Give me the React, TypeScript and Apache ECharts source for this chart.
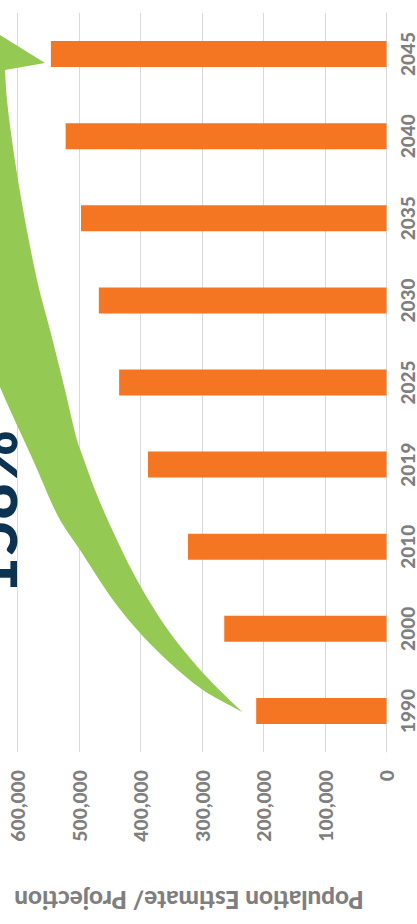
import React, { useEffect, useRef } from "react";
import * as echarts from "echarts";

const years = ["1990", "2000", "2010", "2019", "2025", "2030", "2035", "2040", "2045"];
const population = [212000, 264000, 323000, 388000, 435000, 468000, 497000, 522000, 546000];
const valueTicks = { min: 0, max: 600000, interval: 100000 };
const axisTitle = "Population Estimate/ Projection";
const growthLabel = "158%";

// decorative arrow outline (pixel space)
const arrowOuter: number[][] = [
  [242, 712], [203, 673], [168, 630], [137, 580], [110, 525], [95, 490], [84, 460],
  [77, 440], [65, 390], [50, 330], [37, 280], [18, 180], [7, 100], [5, 70],
];
const arrowHead: number[][] = [[45, 63], [0, 35], [-30, 16], [-70, 40]];
const arrowInner: number[][] = [
  [-75, 75], [-70, 130], [-55, 220], [-30, 310], [0, 387], [33, 460], [59, 518],
  [80, 550], [113, 600], [140, 633], [170, 663], [203, 690], [242, 712],
];

function centripetal(pts: number[][], steps = 10): number[][] {
  const n = pts.length;
  const ext = [
    [2 * pts[0][0] - pts[1][0], 2 * pts[0][1] - pts[1][1]],
    ...pts,
    [2 * pts[n - 1][0] - pts[n - 2][0], 2 * pts[n - 1][1] - pts[n - 2][1]],
  ];
  const out: number[][] = [];
  const d = (a: number[], b: number[]) => Math.max(1e-6, Math.sqrt(Math.hypot(b[0] - a[0], b[1] - a[1])));
  const lerp = (a: number[], b: number[], ta: number, tb: number, t: number) => {
    const w = (t - ta) / (tb - ta);
    return [a[0] + (b[0] - a[0]) * w, a[1] + (b[1] - a[1]) * w];
  };
  for (let i = 1; i < ext.length - 2; i++) {
    const p0 = ext[i - 1], p1 = ext[i], p2 = ext[i + 1], p3 = ext[i + 2];
    const t0 = 0;
    const t1 = t0 + d(p0, p1);
    const t2 = t1 + d(p1, p2);
    const t3 = t2 + d(p2, p3);
    for (let s = 0; s < steps; s++) {
      const t = t1 + ((t2 - t1) * s) / steps;
      const A1 = lerp(p0, p1, t0, t1, t);
      const A2 = lerp(p1, p2, t1, t2, t);
      const A3 = lerp(p2, p3, t2, t3, t);
      const B1 = lerp(A1, A2, t0, t2, t);
      const B2 = lerp(A2, A3, t1, t3, t);
      out.push(lerp(B1, B2, t1, t2, t));
    }
  }
  out.push(pts[n - 1]);
  return out;
}

const fmt = (v: number) => String(v).replace(/\B(?=(\d{3})+(?!\d))/g, ",");

export default function App() {
  const ref = useRef<HTMLDivElement>(null);
  useEffect(() => {
    document.body.style.margin = "0";
    if (!ref.current) return;
    const chart = echarts.init(ref.current, undefined, { renderer: "svg" });
    const FONT = "Lato";
    const gray = "#7f7f7f";
    const arrowPts = [...centripetal(arrowOuter), ...arrowHead, ...centripetal(arrowInner)];
    chart.setOption({
      animation: false,
      backgroundColor: "#ffffff",
      grid: { left: 17.7, right: 30.5, top: 13, bottom: 172, containLabel: false },
      xAxis: {
        type: "value",
        min: valueTicks.min,
        max: valueTicks.max,
        interval: valueTicks.interval,
        inverse: true,
        position: "bottom",
        axisLine: { show: false },
        axisTick: { show: false },
        splitLine: { show: true, lineStyle: { color: "#d9d9d9", width: 1 } },
        axisLabel: {
          rotate: 90,
          margin: 18,
          formatter: (v: number) => fmt(v),
          color: gray,
          fontFamily: FONT,
          fontWeight: 900,
          fontSize: 19.3,
        },
      },
      yAxis: {
        type: "category",
        position: "right",
        data: years,
        axisLine: { show: true, lineStyle: { color: "#d9d9d9", width: 1 } },
        axisTick: { show: false },
        splitLine: { show: false },
        axisLabel: {
          interval: 0,
          rotate: 90,
          margin: 11,
          color: gray,
          fontFamily: FONT,
          fontWeight: 900,
          fontSize: 19,
        },
      },
      series: [
        {
          type: "bar",
          data: population,
          barWidth: 26,
          itemStyle: { color: "#f47622" },
        },
      ],
      graphic: [
        {
          type: "polygon",
          z: 5,
          shape: { points: arrowPts },
          style: { fill: "#94c954" },
        },
        {
          type: "text",
          z: 6,
          x: -8,
          y: 512,
          rotation: Math.PI / 2,
          style: {
            text: growthLabel,
            fontSize: 64,
            fontWeight: 900,
            fontFamily: FONT,
            fill: "#0c3352",
            textAlign: "center",
            align: "center",
            textVerticalAlign: "middle",
            verticalAlign: "middle",
          },
        },
        {
          type: "text",
          z: 6,
          x: 189,
          y: 900,
          rotation: Math.PI,
          style: {
            text: axisTitle,
            fontSize: 24.3,
            fontWeight: 900,
            fontFamily: FONT,
            fill: gray,
            textAlign: "center",
            align: "center",
            textVerticalAlign: "middle",
            verticalAlign: "middle",
          },
        },
      ],
    });
    return () => chart.dispose();
  }, []);
  return (
    <div
      ref={ref}
      style={{ position: "absolute", left: 0, top: 0, width: 417, height: 924 }}
    />
  );
}
